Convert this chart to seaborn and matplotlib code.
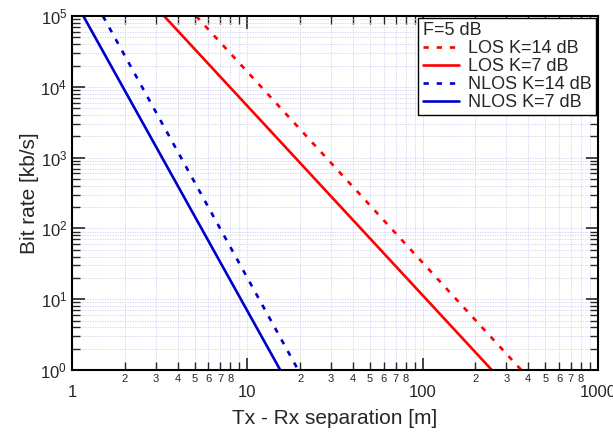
import numpy as np
import pandas as pd
import matplotlib
matplotlib.use("Agg")
import matplotlib.pyplot as plt
import seaborn as sns
from matplotlib.ticker import LogLocator, FixedLocator, FixedFormatter, NullFormatter

# line end points (straight lines in log-log)
series_names = ["LOS K=14 dB", "LOS K=7 dB", "NLOS K=14 dB", "NLOS K=7 dB"]
separation_m = [[5.1, 365.0], [3.35, 248.0], [1.5, 19.5], [1.16, 15.4]]
bitrate_kbps = [[1e5, 1.0], [1e5, 1.0], [1e5, 1.0], [1e5, 1.0]]
line_colors = ["#ff0000", "#ff0000", "#0000cc", "#0000cc"]
line_dashes = [(2, 3), "", (2, 3), ""]

rows = []
for name, xs, ys in zip(series_names, separation_m, bitrate_kbps):
    for x, y in zip(xs, ys):
        rows.append({"series": name, "sep": x, "rate": y})
df = pd.DataFrame(rows)

sns.set_style("ticks")
plt.rcParams["font.family"] = ["Liberation Sans", "DejaVu Sans"]

fig = plt.figure(figsize=(6.13, 4.33), dpi=100)
ax = fig.add_axes([0.1175, 0.1455, 0.858, 0.8175])

sns.lineplot(
    data=df, x="sep", y="rate", hue="series", style="series",
    hue_order=series_names, style_order=series_names,
    palette=line_colors, dashes=line_dashes, linewidth=1.9, ax=ax,
)

ax.set_xscale("log")
ax.set_yscale("log")
ax.set_xlim(1, 1000)
ax.set_ylim(1, 1e5)

# grid
ax.grid(True, which="both", color="#cfcff0", linestyle=(0, (1.5, 1.5)), linewidth=0.6)
ax.set_axisbelow(True)

# x ticks: major labels lower, minor digits small
ax.xaxis.set_major_locator(FixedLocator([1, 10, 100, 1000]))
ax.xaxis.set_major_formatter(FixedFormatter(["1", "10", "100", "1000"]))
minor_x = [m * d for d in [1, 10, 100] for m in range(2, 10)]
minor_lbl = [str(m) if m != 9 else "" for d in [1, 10, 100] for m in range(2, 10)]
ax.xaxis.set_minor_locator(FixedLocator(minor_x))
ax.xaxis.set_minor_formatter(FixedFormatter(minor_lbl))
ax.tick_params(axis="x", which="major", direction="in", length=9, width=1.2,
               labelsize=12, pad=11, top=True)
ax.tick_params(axis="x", which="minor", direction="in", length=6, width=1.0,
               labelsize=8, pad=3, top=True)

ax.yaxis.set_major_locator(LogLocator(base=10, numticks=10))
ax.yaxis.set_minor_locator(LogLocator(base=10, subs=np.arange(2, 10), numticks=10))
ax.yaxis.set_minor_formatter(NullFormatter())
ax.tick_params(axis="y", which="major", direction="in", length=9, width=1.2,
               labelsize=12, right=True)
ax.tick_params(axis="y", which="minor", direction="in", length=6, width=1.0, right=True)

for sp in ax.spines.values():
    sp.set_linewidth(1.5)
    sp.set_color("black")

ax.set_xlabel("Tx - Rx separation [m]", fontsize=15, labelpad=6)
ax.set_ylabel("Bit rate [kb/s]", fontsize=15, labelpad=1)

leg = ax.legend(title="F=5 dB", loc="upper right", fontsize=13, title_fontsize=13,
                frameon=True, fancybox=False, edgecolor="black", framealpha=1,
                borderaxespad=0.1, handlelength=2.0, handletextpad=0.5,
                labelspacing=0.05, borderpad=0.25)
leg._legend_box.align = "left"
leg.get_frame().set_linewidth(1.0)
for h in leg.get_lines():
    h.set_linewidth(1.9)

fig.savefig("out.png", dpi=100)
